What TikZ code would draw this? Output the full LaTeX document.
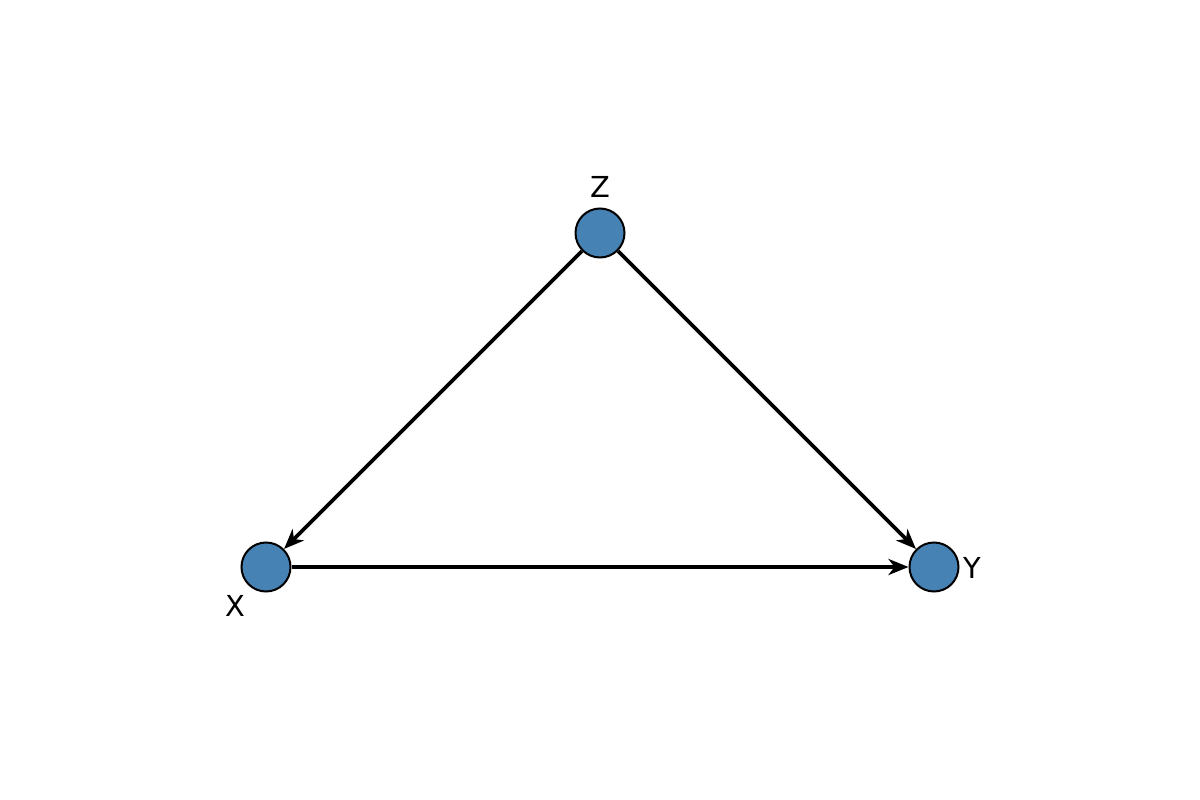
\documentclass[tikz,border=0pt]{standalone}
\usepackage{fontspec}
\setmainfont{DejaVu Sans}
\usetikzlibrary{arrows.meta}
\definecolor{steel}{HTML}{4682B4}
\begin{document}
\begin{tikzpicture}[x=1bp,y=-1bp,
  vertex/.style={circle,draw=black,line width=2bp,fill=steel,minimum size=49bp,inner sep=0pt},
  lbl/.style={inner sep=0pt,font=\fontsize{29}{32}\selectfont},
  edge/.style={line width=3.8bp,-{Stealth[length=20bp,width=16bp,inset=6bp]},shorten >=0bp}]
\useasboundingbox (0,0) rectangle (1200,800);
\node[vertex] (Z) at (600,233) {};
\node[vertex] (X) at (266,567) {};
\node[vertex] (Y) at (934,567) {};
\node[lbl] (lz) at (600,187) {Z};
\node[lbl] (lx) at (235,606) {X};
\node[lbl] (ly) at (972,568) {Y};
\draw[edge] (Z) -- (X);
\draw[edge] (Z) -- (Y);
\draw[edge] (X) -- (Y);
\end{tikzpicture}
\end{document}
